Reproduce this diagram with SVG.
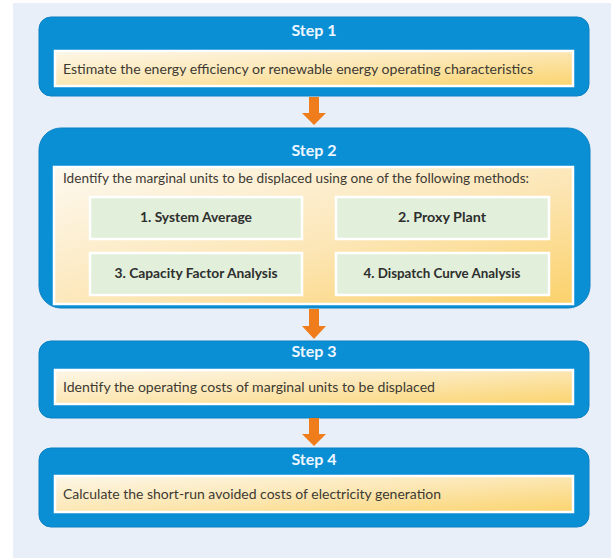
<svg xmlns="http://www.w3.org/2000/svg" width="615" height="558" viewBox="0 0 615 558">
<defs>
<linearGradient id="cream" x1="0" y1="0" x2="1" y2="1">
<stop offset="0" stop-color="#fdf7e8"/>
<stop offset="0.5" stop-color="#fce7b4"/>
<stop offset="1" stop-color="#fbd46e"/>
</linearGradient>
<linearGradient id="cream2" x1="0" y1="0" x2="1" y2="1">
<stop offset="0" stop-color="#fdf9f0"/>
<stop offset="0.55" stop-color="#fce6b6"/>
<stop offset="1" stop-color="#fbd16a"/>
</linearGradient>
<style>
.step{fill:#0b8fd4;stroke:#0a80c2;stroke-width:1}
.inner{stroke:#ffffff;stroke-width:2.5}
.green{fill:#e2efda;stroke:#ffffff;stroke-width:2.5}
.title{font-family:Lato,"Open Sans","Liberation Sans",sans-serif;font-weight:bold;font-size:16px;fill:#eef7ff;text-anchor:middle}
.txt{font-family:Lato,"Open Sans","Liberation Sans",sans-serif;font-size:14px;fill:#3d3a33}
.gtxt{font-family:Lato,"Open Sans","Liberation Sans",sans-serif;font-weight:bold;font-size:13px;fill:#2e2e2e;text-anchor:middle}
.arrow{fill:#f07d1c}
</style>
</defs>
<rect x="13" y="3" width="598" height="555" fill="#e8eff8"/>
<g id="step1">
<rect class="step" x="39" y="17" width="550" height="79" rx="12"/>
<rect class="inner" x="55" y="51" width="518" height="35" fill="url(#cream)"/>
<text class="title" x="314" y="36">Step 1</text>
<text class="txt" x="63" y="74" textLength="470" lengthAdjust="spacingAndGlyphs">Estimate the energy efficiency or renewable energy operating characteristics</text>
</g>
<g id="step2">
<rect class="step" x="39" y="128" width="551" height="180" rx="22"/>
<rect class="inner" x="54" y="167" width="519" height="137" fill="url(#cream2)"/>
<text class="title" x="314" y="156">Step 2</text>
<text class="txt" x="63" y="183" textLength="466" lengthAdjust="spacingAndGlyphs">Identify the marginal units to be displaced using one of the following methods:</text>
</g>
<g id="method1">
<rect class="green" x="90" y="197" width="212" height="42"/>
<text class="gtxt" x="196" y="222" textLength="112" lengthAdjust="spacingAndGlyphs">1. System Average</text>
</g>
<g id="method2">
<rect class="green" x="336" y="197" width="213" height="42"/>
<text class="gtxt" x="442" y="222" textLength="88" lengthAdjust="spacingAndGlyphs">2. Proxy Plant</text>
</g>
<g id="method3">
<rect class="green" x="90" y="253" width="212" height="42"/>
<text class="gtxt" x="196" y="278" textLength="163" lengthAdjust="spacingAndGlyphs">3. Capacity Factor Analysis</text>
</g>
<g id="method4">
<rect class="green" x="336" y="253" width="213" height="42"/>
<text class="gtxt" x="442" y="278" textLength="157" lengthAdjust="spacingAndGlyphs">4. Dispatch Curve Analysis</text>
</g>
<g id="step3">
<rect class="step" x="39" y="341" width="550" height="77" rx="12"/>
<rect class="inner" x="55" y="370" width="518" height="34" fill="url(#cream)"/>
<text class="title" x="314" y="357">Step 3</text>
<text class="txt" x="63" y="392" textLength="372" lengthAdjust="spacingAndGlyphs">Identify the operating costs of marginal units to be displaced</text>
</g>
<g id="step4">
<rect class="step" x="39" y="448" width="550" height="79" rx="12"/>
<rect class="inner" x="55" y="476" width="518" height="36" fill="url(#cream)"/>
<text class="title" x="314" y="465">Step 4</text>
<text class="txt" x="63" y="499" textLength="378" lengthAdjust="spacingAndGlyphs">Calculate the short-run avoided costs of electricity generation</text>
</g>
<g id="connectors">
<path class="arrow" d="M309 97 H319 V113 H326 L314 125 L302 113 H309 Z"/>
<path class="arrow" d="M309 309 H319 V326 H326 L314 339 L302 326 H309 Z"/>
<path class="arrow" d="M309 418 H319 V434 H326 L314 446 L302 434 H309 Z"/>
</g>
</svg>
